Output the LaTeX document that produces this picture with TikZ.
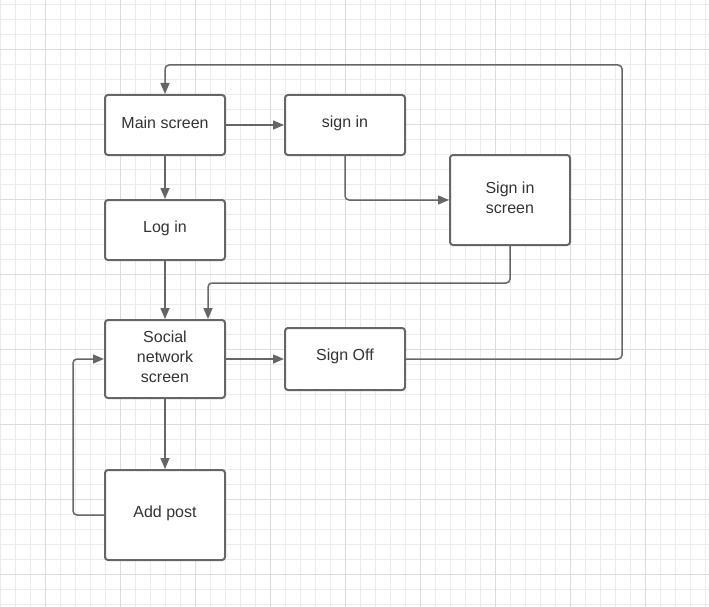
\documentclass[tikz,border=0pt]{standalone}
\usepackage{fontspec}
\setmainfont{Liberation Sans}
\usetikzlibrary{arrows.meta}
\definecolor{edge}{HTML}{666666}
\definecolor{txt}{HTML}{333333}
\definecolor{gminor}{HTML}{EBEBEB}
\definecolor{gmajor}{HTML}{DCDCDC}
\tikzset{
  box/.style={draw=edge, line width=2pt, rounded corners=3pt, fill=white,
    minimum width=120pt, inner sep=0pt},
  lbl/.style={align=center, text=txt, inner sep=0pt,
    font=\fontsize{16pt}{20pt}\selectfont},
  conn/.style={draw=edge, line width=1.5pt, rounded corners=4pt,
    -{Triangle[length=11pt,width=9pt]}},
}
\begin{document}
\begin{tikzpicture}[x=1pt,y=-1pt]
\useasboundingbox (0,0) rectangle (709,607);
\fill[white] (0,0) rectangle (709,607);
% grid
\foreach \i in {0,...,47} {\draw[gminor, line width=1pt] (0.5+15*\i,0) -- (0.5+15*\i,607);}
\foreach \i in {0,...,40} {\draw[gminor, line width=1pt] (0,4.5+15*\i) -- (709,4.5+15*\i);}
\foreach \i in {0,...,8} {\draw[gmajor, line width=1pt] (45.5+75*\i,0) -- (45.5+75*\i,607);}
\foreach \i in {0,...,7} {\draw[gmajor, line width=1pt] (0,49.5+75*\i) -- (709,49.5+75*\i);}
% nodes
\node[box, minimum height=60pt] (main) at (165,125) {};
\node[box, minimum height=60pt] (signin) at (345,125) {};
\node[box, minimum height=90pt] (sis) at (510,200) {};
\node[box, minimum height=60pt] (login) at (165,230) {};
\node[box, minimum height=78pt] (social) at (165,359) {};
\node[box, minimum height=62pt] (signoff) at (345,359) {};
\node[box, minimum height=90pt] (addpost) at (165,515) {};
% labels
\node[lbl] (mainT) at ([yshift=2pt]main.center) {Main screen};
\node[lbl] (signinT) at ([yshift=2pt]signin.center) {sign in};
\node[lbl] (sisT) at ([yshift=2pt]sis.center) {Sign in\\screen};
\node[lbl] (loginT) at ([yshift=2pt]login.center) {Log in};
\node[lbl] (socialT) at ([yshift=2pt]social.center) {Social\\network\\screen};
\node[lbl] (signoffT) at ([yshift=3pt]signoff.center) {Sign Off};
\node[lbl] (addpostT) at ([yshift=2pt]addpost.center) {Add post};
\coordinate (tr) at (622,65);
% connectors
\draw[conn] (main.east) -- (signin.west);
\draw[conn] (main.south) -- (login.north);
\draw[conn] (signin.south) |- (sis.west);
\draw[conn] (login.south) -- (social.north);
\draw[conn] (sis.south) -- ++(0,37) -| ([xshift=43pt]social.north);
\draw[conn] (social.east) -- (signoff.west);
\draw[conn] (signoff.east) -- (signoff.east -| tr) -- (tr) -| (main.north);
\draw[conn] (social.south) -- (addpost.north);
\draw[conn] (addpost.west) -- ++(-31,0) |- (social.west);
\end{tikzpicture}
\end{document}
